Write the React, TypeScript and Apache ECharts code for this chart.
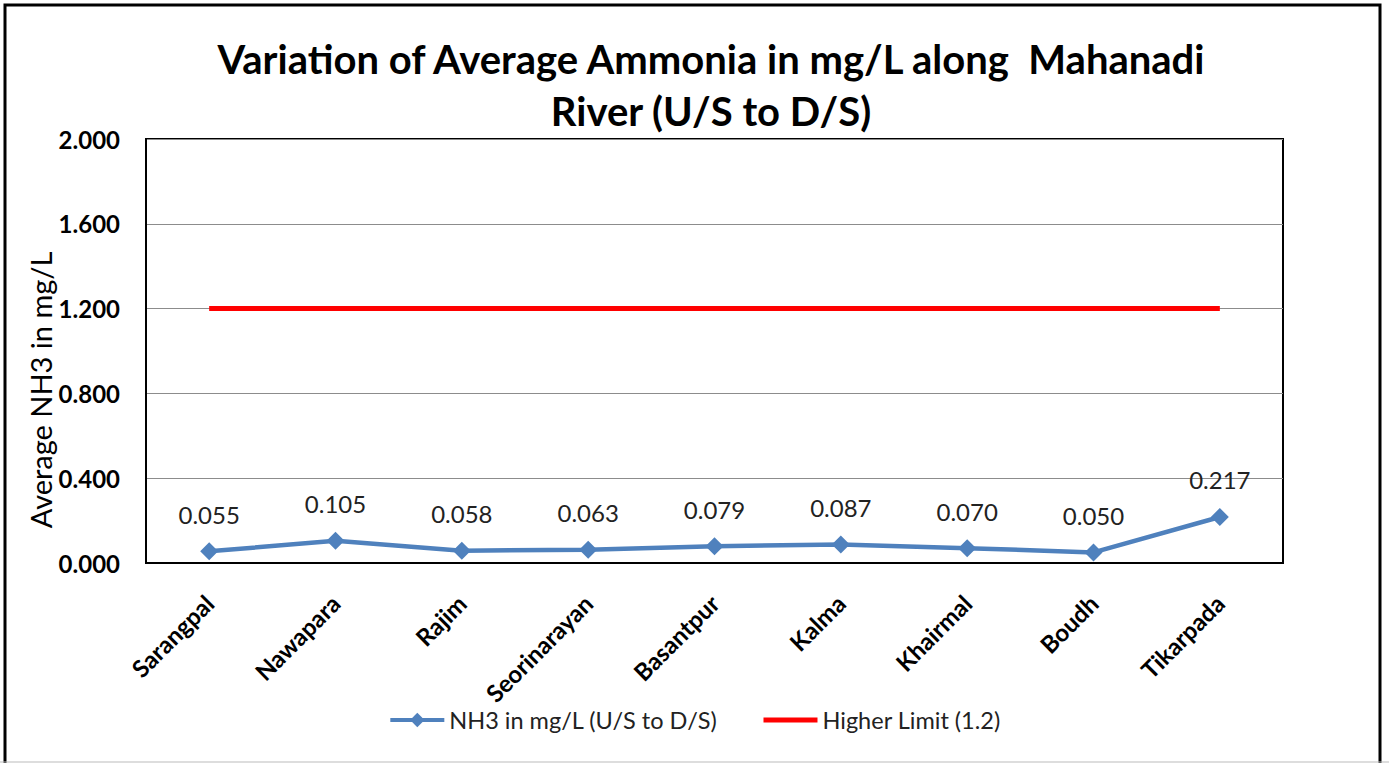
import React, { useEffect, useRef } from "react";
import * as echarts from "echarts";

const categories = ["Sarangpal", "Nawapara", "Rajim", "Seorinarayan", "Basantpur", "Kalma", "Khairmal", "Boudh", "Tikarpada"];
const nh3Values = [0.055, 0.105, 0.058, 0.063, 0.079, 0.087, 0.070, 0.050, 0.217];
const higherLimit = [1.2, 1.2, 1.2, 1.2, 1.2, 1.2, 1.2, 1.2, 1.2];
const seriesNames = ["NH3 in mg/L (U/S to D/S)", "Higher Limit (1.2)"];
const titleText = "Variation of Average Ammonia in mg/L along  Mahanadi\nRiver (U/S to D/S)";
const yAxisName = "Average NH3 in mg/L";

const FONT = "Lato, 'Open Sans', sans-serif";

export default function App() {
  const ref = useRef<HTMLDivElement>(null);
  useEffect(() => {
    if (!ref.current) return;
    const chart = echarts.init(ref.current, null, { renderer: "svg" });
    chart.setOption({
      animation: false,
      backgroundColor: "#fff",
      textStyle: { fontFamily: FONT },
      title: {
        text: titleText,
        left: 706,
        top: 28,
        textAlign: "center",
        textStyle: { fontFamily: FONT, fontSize: 40, fontWeight: "bold", color: "#000", lineHeight: 52 },
      },
      grid: { left: 146, top: 139, right: 106, bottom: 200, show: true, borderColor: "#000", borderWidth: 2, backgroundColor: "transparent" },
      legend: {
        bottom: 26,
        left: "center",
        itemWidth: 54,
        itemHeight: 18,
        itemGap: 46,
        textStyle: { fontFamily: FONT, fontSize: 23.5, color: "#222" },
        data: [
          { name: seriesNames[0], lineStyle: { width: 4, color: "#4F81BD" } },
          { name: seriesNames[1], icon: "path://M0,0 L54,0 L54,5 L0,5 Z", itemStyle: { color: "#FF0000" } },
        ],
      },
      xAxis: {
        type: "category",
        data: categories,
        boundaryGap: true,
        axisLine: { show: true, lineStyle: { color: "#000", width: 2 } },
        axisTick: { show: false },
        axisLabel: { rotate: 45, margin: 36, fontFamily: FONT, fontSize: 24, fontWeight: "bold", color: "#000", interval: 0 },
      },
      yAxis: {
        type: "value",
        min: 0,
        max: 2,
        interval: 0.4,
        axisLine: { show: true, lineStyle: { color: "#000", width: 2 } },
        axisTick: { show: false },
        splitLine: { lineStyle: { color: "#8c8c8c", width: 1 } },
        axisLabel: { margin: 26, fontFamily: FONT, fontSize: 24, fontWeight: "bold", color: "#000", formatter: (v: number) => v.toFixed(3) },
      },
      graphic: [
        { type: "rect", shape: { x: 5, y: 5, width: 1375, height: 800 }, style: { fill: "none", stroke: "#000", lineWidth: 3 }, silent: true },
        { type: "line", shape: { x1: 0, y1: 762, x2: 1389, y2: 762 }, style: { stroke: "#bbb", lineWidth: 1 }, silent: true },
        {
          type: "text",
          x: 40,
          y: 390,
          rotation: Math.PI / 2,
          style: { text: yAxisName, fontFamily: FONT, fontSize: 29, fill: "#000", textAlign: "center", textVerticalAlign: "middle" },
        },
      ],
      series: [
        {
          name: seriesNames[0],
          type: "line",
          data: nh3Values,
          symbol: "diamond",
          symbolSize: 18,
          itemStyle: { color: "#4F81BD" },
          lineStyle: { color: "#4F81BD", width: 4.5 },
          label: {
            show: true,
            position: "top",
            distance: 16,
            fontFamily: FONT,
            fontSize: 24,
            color: "#222",
            formatter: (p: any) => Number(p.value).toFixed(3),
          },
          z: 3,
        },
        {
          name: seriesNames[1],
          type: "line",
          data: higherLimit,
          symbol: "none",
          itemStyle: { color: "#FF0000" },
          lineStyle: { color: "#FF0000", width: 5 },
          z: 2,
        },
      ],
    });
    return () => chart.dispose();
  }, []);
  return <div ref={ref} style={{ position: "fixed", left: 0, top: 0, width: 1389, height: 763 }} />;
}
